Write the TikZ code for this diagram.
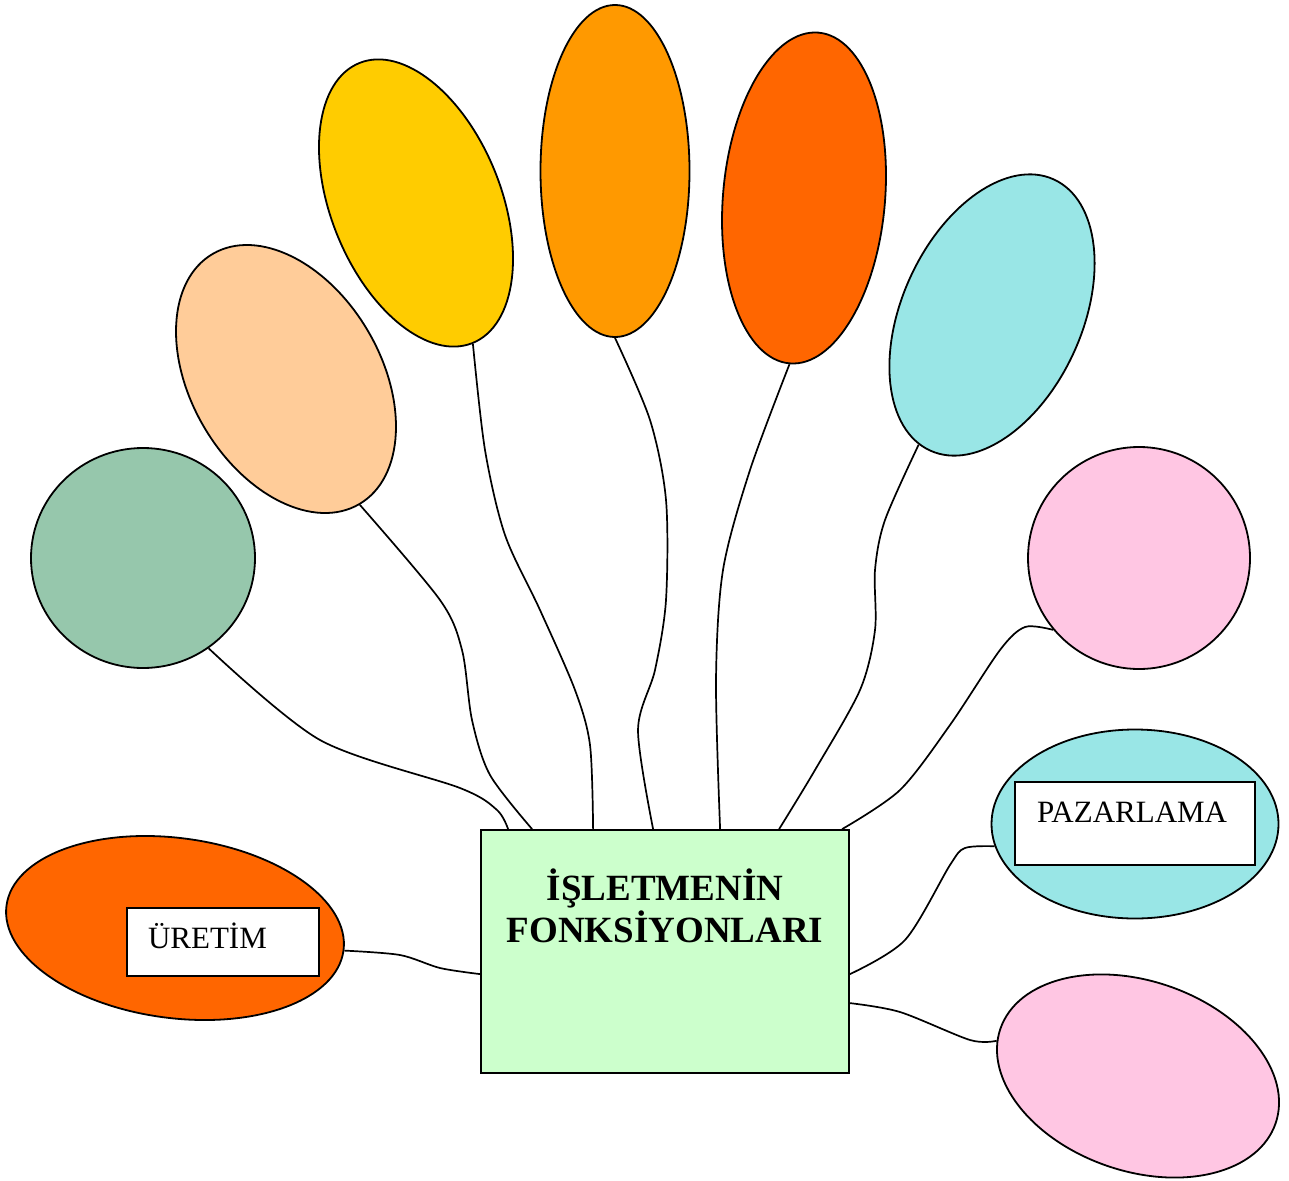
\documentclass[tikz,border=0pt]{standalone}
\usepackage{fontspec}
\setmainfont{Liberation Serif}
\usetikzlibrary{shapes.geometric}
\definecolor{cgreen}{RGB}{150,199,172}
\definecolor{cpeach}{RGB}{255,204,153}
\definecolor{cyellow}{RGB}{255,204,0}
\definecolor{corange}{RGB}{255,153,0}
\definecolor{cred}{RGB}{255,102,0}
\definecolor{ccyan}{RGB}{153,230,230}
\definecolor{cpink}{RGB}{255,198,227}
\definecolor{cbox}{RGB}{204,255,204}
\tikzset{
  blob/.style={ellipse, draw=black, line width=1.8pt, inner sep=0pt},
  wire/.style={draw=black, line width=1.7pt},
  labelbox/.style={draw=black, fill=white, line width=1.8pt, inner ysep=0pt, align=left,
    font=\fontsize{31}{36}\selectfont},
}
\begin{document}
\begin{tikzpicture}[x=1pt,y=1pt]
\useasboundingbox (0,0) rectangle (1289,-1180);
% balloons
\node[blob, fill=cgreen, minimum width=224pt, minimum height=220pt] (green) at (143,-558) {};
\node[blob, fill=cpeach, minimum width=290pt, minimum height=190pt, rotate=-59.6] (peach) at (286,-379) {};
\node[blob, fill=cyellow, minimum width=302pt, minimum height=170pt, rotate=-68] (yellow) at (416,-203) {};
\node[blob, fill=corange, minimum width=149pt, minimum height=332pt] (orange) at (615,-171) {};
\node[blob, fill=cred, minimum width=162pt, minimum height=332pt, rotate=-5] (red) at (804,-198) {};
\node[blob, fill=ccyan, minimum width=298pt, minimum height=180pt, rotate=65.5] (cyan) at (992,-315) {};
\node[blob, fill=cpink, minimum width=222pt, minimum height=222pt] (pink) at (1139,-558) {};
\node[blob, fill=ccyan, minimum width=287pt, minimum height=189pt] (paz) at (1135,-824) {};
\node[blob, fill=cpink, minimum width=291pt, minimum height=190pt, rotate=-19] (pinkb) at (1138,-1076) {};
\node[blob, fill=cred, minimum width=340pt, minimum height=180pt, rotate=-7.6] (ure) at (175,-928) {};
% central box
\node[draw=black, fill=cbox, line width=1.8pt, minimum width=368pt, minimum height=243pt, inner sep=0pt] (box) at (665,-951.5) {};
\node[font=\fontsize{37}{42}\selectfont\bfseries, align=center, anchor=north] (title) at (665,-865) {İŞLETMENİN\\FONKSİYONLARI};
% label boxes
\node[labelbox, inner xsep=21pt, text width=150pt, text height=40pt, text depth=28pt] (uretxt) at (223,-942) {ÜRETİM};
\node[labelbox, inner xsep=22pt, text width=196pt, text height=40pt, text depth=43pt] (paztxt) at (1135,-823.5) {PAZARLAMA};
% connectors
\draw[wire] plot[smooth] coordinates {(green.-54) (320,-740) (460,-788) (497,-810) ([xshift=28pt]box.north west)};
\draw[wire] plot[smooth] coordinates {(peach.east) (440,-600) (462,-650) (472,-720) (490,-775) ([xshift=52pt]box.north west)};
\draw[wire] plot[smooth] coordinates {(yellow.east) (485,-450) (505,-535) (540,-610) (575,-690) (590,-745) ([xshift=113pt]box.north west)};
\draw[wire] plot[smooth] coordinates {(orange.south) (650,-420) (666,-500) (666,-600) (655,-670) (638,-730) ([xshift=173pt]box.north west)};
\draw[wire] plot[smooth] coordinates {(red.south) (750,-470) (723,-570) (716,-680) ([xshift=240pt]box.north west)};
\draw[wire] plot[smooth] coordinates {(cyan.175) (885,-520) (875,-570) (875,-630) (860,-690) (815,-770) ([xshift=299pt]box.north west)};
\draw[wire] plot[smooth] coordinates {(pink.220) (1025,-627) (1000,-650) (950,-725) (900,-790) ([xshift=362pt]box.north west)};
\draw[wire] plot[smooth] coordinates {(paz.189) (965,-848) (950,-865) (905,-940) ([yshift=-145pt]box.north east)};
\draw[wire] plot[smooth] coordinates {(pinkb.185) (970,-1040) (900,-1012) ([yshift=-174pt]box.north east)};
\draw[wire] plot[smooth] coordinates {(ure.east) (400,-955) (440,-968) ([yshift=-145pt]box.north west)};
\end{tikzpicture}
\end{document}
